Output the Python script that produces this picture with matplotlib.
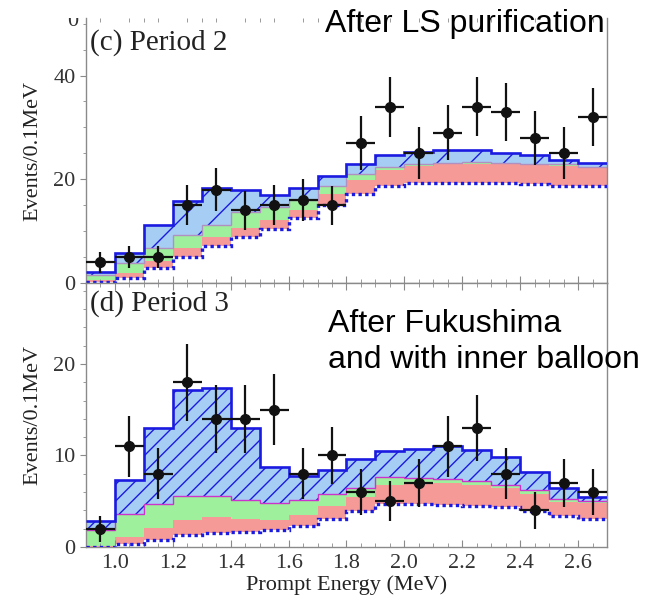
import matplotlib
matplotlib.use("Agg")
import matplotlib.pyplot as plt
import numpy as np
from matplotlib.patches import Rectangle
from matplotlib.ticker import MultipleLocator

# bin edges in MeV
energy_edges = [0.9, 1.0, 1.1, 1.2, 1.3, 1.4, 1.5, 1.6, 1.7, 1.8,
                1.9, 2.0, 2.1, 2.2, 2.3, 2.4, 2.5, 2.6, 2.7]

# (c) Period 2
p2_data = [4, 5, 5, 15, 18, 14, 15, 16, 15, 27, 34, 25, 29, 34, 33, 28, 25, 32]
p2_err = [2.0, 2.2, 2.1, 3.9, 4.2, 3.7, 3.9, 4.0, 3.8, 5.2, 5.8, 5.0, 5.3, 5.7, 5.6, 5.2, 5.0, 5.6]
p2_dotted = [0.2, 1.0, 2.8, 5.0, 7.1, 8.8, 10.4, 12.5, 15.1, 17.2, 18.8, 19.3, 19.3, 19.2, 19.2, 19.0, 18.8, 18.7]
p2_pink = [0.65, 1.95, 4.2, 6.8, 8.9, 10.7, 12.1, 14.1, 17.2, 19.9, 21.7, 22.6, 22.9, 23.0, 22.9, 22.8, 22.6, 22.1]
p2_green = [1.6, 3.9, 6.8, 9.3, 11.2, 13.6, 14.6, 16.0, 18.8, 21.1, 22.4, 23.0, 23.2, 23.3, 23.2, 23.0, 22.9, 22.4]
p2_total = [2.1, 5.8, 11.2, 15.9, 18.3, 18.0, 16.9, 18.4, 20.6, 22.9, 24.7, 25.3, 25.6, 25.6, 25.1, 24.7, 23.7, 23.1]

# (d) Period 3
p3_data = [2, 11, 8, 18, 14, 14, 15, 8, 10, 6, 5, 7, 11, 13, 8, 4, 7, 6]
p3_err = [1.4, 3.3, 2.8, 4.2, 3.7, 3.7, 3.9, 2.8, 3.1, 2.5, 2.2, 2.6, 3.3, 3.6, 2.8, 2.0, 2.6, 2.5]
p3_dotted = [0.05, 0.33, 0.75, 1.3, 1.5, 1.65, 1.85, 2.3, 3.1, 3.9, 4.7, 4.7, 4.6, 4.5, 4.4, 3.9, 3.4, 3.1]
p3_pink = [0.1, 1.1, 2.1, 2.95, 3.3, 3.1, 2.95, 3.5, 4.5, 5.5, 6.8, 7.0, 6.95, 6.8, 6.4, 5.8, 4.95, 4.85]
p3_green = [1.9, 3.6, 4.75, 5.6, 5.6, 5.1, 4.8, 5.1, 5.8, 6.5, 7.6, 7.5, 7.4, 7.25, 6.8, 6.2, 5.2, 5.05]
p3_total = [2.85, 7.3, 13.0, 17.2, 17.35, 13.0, 8.7, 7.8, 8.4, 9.6, 10.5, 10.7, 11.0, 10.6, 9.8, 8.2, 6.4, 5.5]

PINK = "#f59a96"
GREEN = "#9ef09c"
LIGHTBLUE = "#a6cdf4"
BLUE = "#1a1ae0"
SPINE = "#8a8a8a"
SERIF = "Liberation Serif"
SANS = "Liberation Sans"

plt.rcParams["hatch.linewidth"] = 1.0

W, H = 654, 604
fig = plt.figure(figsize=(W / 100, H / 100), dpi=100)
ax_top = fig.add_axes([86 / W, 1 - 283 / H, 521 / W, 265 / H])
ax_bot = fig.add_axes([86 / W, 1 - 547 / H, 521 / W, 264 / H])

edges = np.array(energy_edges)
centers = (edges[:-1] + edges[1:]) / 2


def draw_panel(ax, dotted, pink, green, total, data, err, hatch, line_color):
    ax.stairs(pink, edges, baseline=dotted, fill=True, color=PINK, lw=0, zorder=1)
    ax.stairs(green, edges, baseline=pink, fill=True, color=GREEN, lw=0, zorder=1)
    ax.stairs(total, edges, baseline=green, fill=True, facecolor=LIGHTBLUE,
              edgecolor=BLUE, hatch=hatch, lw=0, zorder=1)
    ax.stairs(green, edges, baseline=None, color=line_color, lw=1.0, zorder=2)
    ax.stairs(total, edges, baseline=None, color=BLUE, lw=1.9, zorder=3)
    ax.stairs(dotted, edges, baseline=None, color=BLUE, lw=2.4,
              linestyle=(0, (1.0, 1.0)), zorder=3)
    ax.errorbar(centers, data, xerr=0.05, yerr=err, fmt="o", color="#111111",
                ms=7, elinewidth=1.6, capsize=0, zorder=4)

    ax.set_xlim(0.9, 2.7)
    ax.xaxis.set_major_locator(MultipleLocator(0.2))
    ax.xaxis.set_minor_locator(MultipleLocator(0.05))
    ax.tick_params(axis="x", which="both", direction="in", top=True, bottom=True,
                   colors=SPINE, labelcolor="#333333", labelsize=16, pad=5)
    ax.tick_params(axis="x", which="major", length=5)
    ax.tick_params(axis="x", which="minor", length=3)
    ax.tick_params(axis="y", which="both", direction="out", colors=SPINE,
                   labelcolor="#333333", labelsize=16)
    ax.tick_params(axis="y", which="major", length=4)
    ax.tick_params(axis="y", which="minor", length=2.5)
    for spine in ax.spines.values():
        spine.set_color(SPINE)
        spine.set_linewidth(1.0)
    ax.set_ylabel("Events/0.1MeV", family=SERIF, fontsize=16, labelpad=8, color="#222222")


draw_panel(ax_top, p2_dotted, p2_pink, p2_green, p2_total, p2_data, p2_err, "/", "#b090c0")
ax_top.set_ylim(0, 51.1)
ax_top.yaxis.set_major_locator(MultipleLocator(20))
ax_top.yaxis.set_minor_locator(MultipleLocator(5))
ax_top.tick_params(axis="x", labelbottom=False, top=False)
ax_top.spines["top"].set_visible(False)
for lab in ax_top.get_yticklabels():
    lab.set_family(SERIF)
ax_top.text(0.008, 0.879, "(c) Period 2", transform=ax_top.transAxes,
            family=SERIF, fontsize=21, va="baseline", ha="left", color="#222222")

draw_panel(ax_bot, p3_dotted, p3_pink, p3_green, p3_total, p3_data, p3_err, "//", "#cc33cc")
ax_bot.set_ylim(0, 28.85)
ax_bot.yaxis.set_major_locator(MultipleLocator(10))
ax_bot.yaxis.set_minor_locator(MultipleLocator(2))
ax_bot.set_xticks([1.0, 1.2, 1.4, 1.6, 1.8, 2.0, 2.2, 2.4, 2.6])
ax_bot.set_xticklabels(["1.0", "1.2", "1.4", "1.6", "1.8", "2.0", "2.2", "2.4", "2.6"])
for lab in ax_bot.get_xticklabels() + ax_bot.get_yticklabels():
    lab.set_family(SERIF)
ax_bot.set_xlabel("Prompt Energy (MeV)", family=SERIF, fontsize=16, labelpad=2, color="#222222")
ax_bot.text(0.008, 0.894, "(d) Period 3", transform=ax_bot.transAxes,
            family=SERIF, fontsize=21, va="baseline", ha="left", color="#222222")

# annotations written over the figure
fig.text(325 / W, 1 - 32 / H, "After LS purification", family=SANS, fontsize=23,
         va="baseline", ha="left", color="black")
fig.text(328 / W, 1 - 332 / H, "After Fukushima", family=SANS, fontsize=23,
         va="baseline", ha="left", color="black")
fig.text(328 / W, 1 - 368 / H, "and with inner balloon", family=SANS, fontsize=23,
         va="baseline", ha="left", color="black")

# remains of the panel above, cut off at the top
fig.text(78 / W, 1 - 26 / H, "0", family=SERIF, fontsize=16, va="baseline",
         ha="right", color="#333333")
fig.patches.append(Rectangle((40 / W, 1 - 18 / H), 45 / W, 18 / H,
                             transform=fig.transFigure, facecolor="white",
                             edgecolor="none", zorder=10))

fig.savefig("out.png", dpi=100)
